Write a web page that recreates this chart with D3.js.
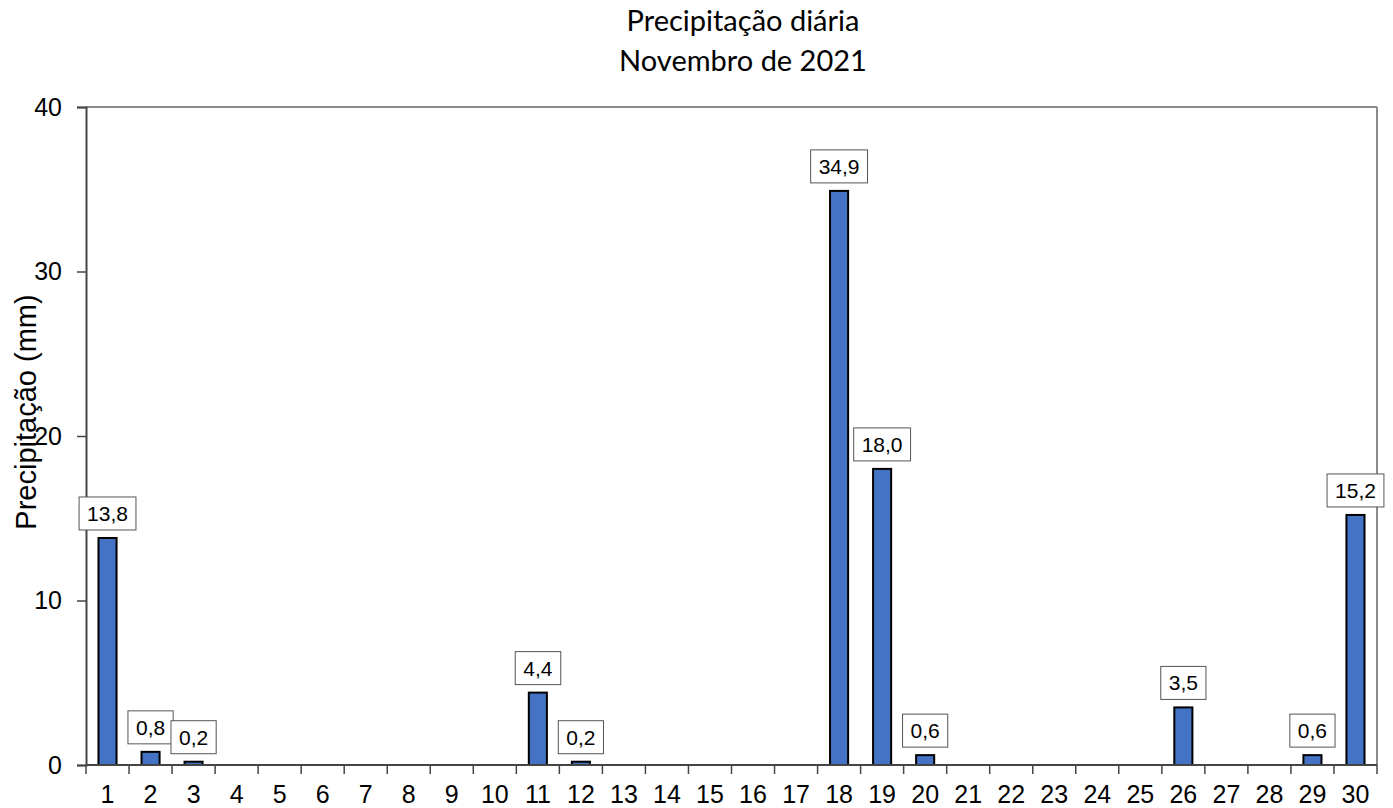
<!DOCTYPE html>
<html><head><meta charset="utf-8">
<script src="https://cdn.jsdelivr.net/npm/d3@7"></script>
<style>body{margin:0;background:#fff}svg{display:block}</style>
</head><body>
<svg id="c" width="1393" height="808"></svg>
<script>
const days = d3.range(1, 31).map(String);
const values = [13.8,0.8,0.2,0,0,0,0,0,0,0,4.4,0.2,0,0,0,0,0,34.9,18.0,0.6,0,0,0,0,0,3.5,0,0,0.6,15.2];
const yTicks = [0,10,20,30,40];
const titleLines = ["Precipitação diária","Novembro de 2021"];
const yLabel = "Precipitação (mm)";

const svg = d3.select("#c");
const m = {l:86, r:1377, t:107, b:765};
const x = d3.scaleBand().domain(days).range([m.l, m.r]).paddingInner(0.58).paddingOuter(0.29);
const xb = d3.scaleBand().domain(days).range([m.l, m.r]);
const y = d3.scaleLinear().domain([0,40]).range([m.b, m.t]);

// frame
svg.append("line").attr("x1",m.l).attr("x2",m.r).attr("y1",m.t).attr("y2",m.t).attr("stroke","#8c8c8c").attr("stroke-width",2);
svg.append("line").attr("x1",m.r).attr("x2",m.r).attr("y1",m.t).attr("y2",m.b).attr("stroke","#8c8c8c").attr("stroke-width",2);

// bars
svg.selectAll("rect.bar").data(values).join("rect").attr("class","bar")
  .attr("x",(d,i)=>x(days[i])).attr("width",x.bandwidth())
  .attr("y",d=>y(d)).attr("height",d=>m.b-y(d))
  .attr("fill",d=>d>0?"#4472C4":"none").attr("stroke",d=>d>0?"#000":"none").attr("stroke-width",2);

// y axis
const ya = svg.append("g").attr("transform",`translate(${m.l},0)`)
  .call(d3.axisLeft(y).tickValues(yTicks).tickSize(9).tickPadding(15).tickFormat(d3.format("d")));
ya.select(".domain").attr("stroke","#444").attr("stroke-width",2);
ya.selectAll(".tick line").attr("stroke","#444").attr("stroke-width",1.5);
ya.selectAll("text").attr("font-family","Liberation Sans, Arial").attr("font-size",25).attr("fill","#000");

// x axis
const xa = svg.append("g").attr("transform",`translate(0,${m.b})`)
  .call(d3.axisBottom(xb).tickSize(0).tickPadding(20));
xa.select(".domain").attr("stroke","#444").attr("stroke-width",2).attr("d",`M${m.l},0H${m.r}`);
xa.selectAll("text").attr("font-family","Liberation Sans, Arial").attr("font-size",25).attr("fill","#000");
svg.append("g").selectAll("line").data(d3.range(0,31)).join("line")
  .attr("x1",i=>m.l+i*xb.step()).attr("x2",i=>m.l+i*xb.step())
  .attr("y1",m.b).attr("y2",m.b+9).attr("stroke","#444").attr("stroke-width",1.5);

// labels
const fmt = d => d.toFixed(1).replace(".",",");
const lab = svg.append("g").selectAll("g").data(values.map((v,i)=>({v,i})).filter(d=>d.v>0)).join("g")
  .attr("transform",d=>`translate(${x(days[d.i])+x.bandwidth()/2},${y(d.v)-8})`);
lab.append("text").attr("text-anchor","middle").attr("y",-9)
  .attr("font-family","Liberation Sans, Arial").attr("font-size",21).text(d=>fmt(d.v));
lab.each(function(){
  const g = d3.select(this); const bb = g.select("text").node().getBBox();
  g.insert("rect","text").attr("x",bb.x-8).attr("y",-33).attr("width",bb.width+16).attr("height",33)
    .attr("fill","#fff").attr("stroke","#555").attr("stroke-width",1);
});

// title
svg.append("g").selectAll("text").data(titleLines).join("text")
  .attr("x",743).attr("y",(d,i)=>31+i*40).attr("text-anchor","middle")
  .attr("font-family","Lato, Carlito, sans-serif").attr("font-size",29).text(d=>d);

// y label
svg.append("text").attr("transform","translate(36,412) rotate(-90)").attr("text-anchor","middle")
  .attr("font-family","Liberation Sans, Arial").attr("font-size",29).text(yLabel);
</script>
</body></html>
